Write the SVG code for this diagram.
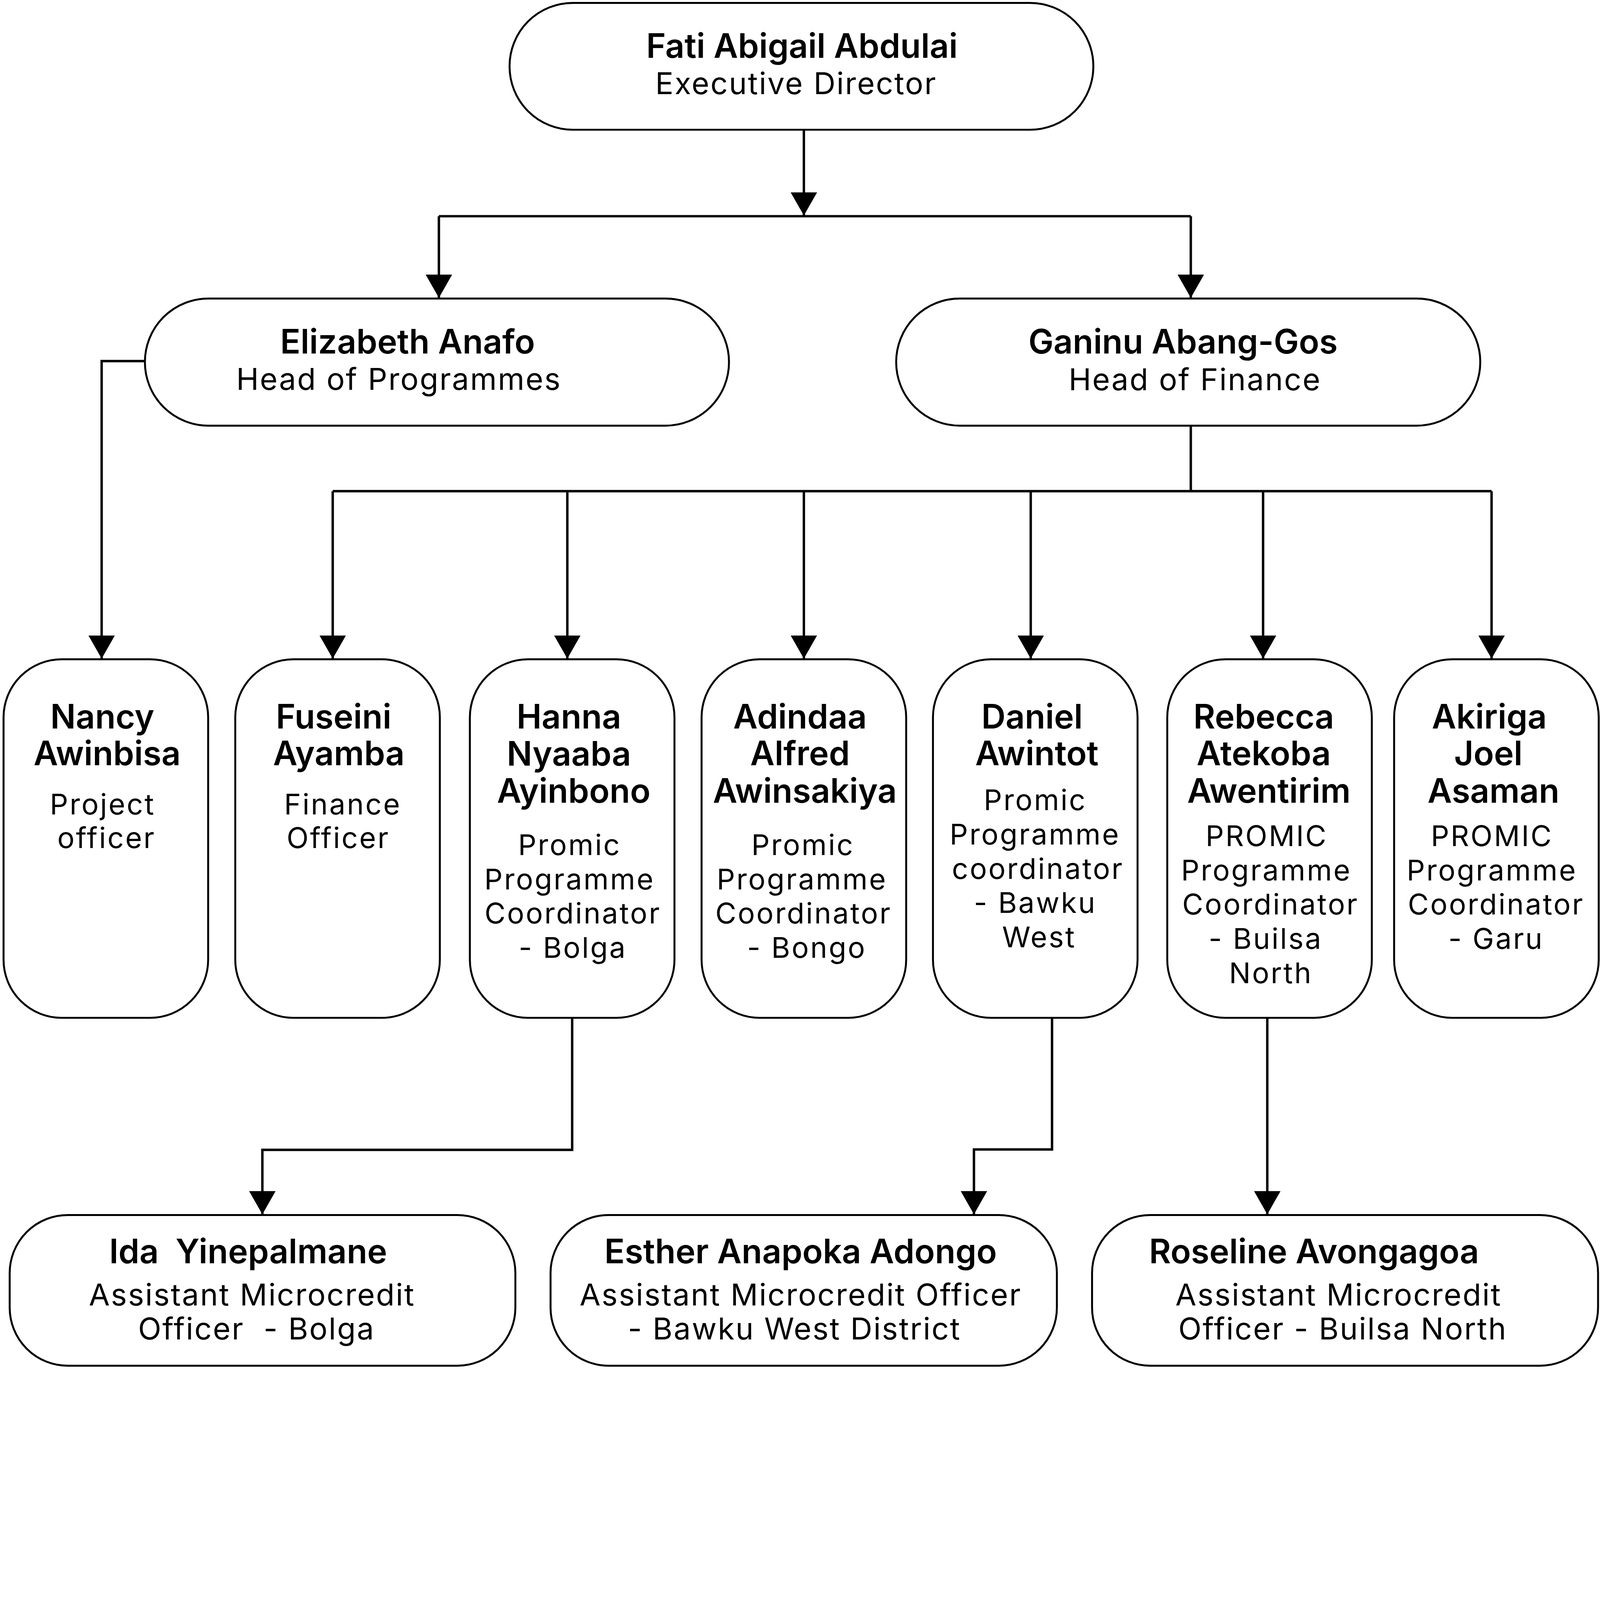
<svg xmlns="http://www.w3.org/2000/svg" width="4958" height="4239" viewBox="0 0 4958 4239" preserveAspectRatio="xMinYMin meet" style="max-width:100vw;max-height:100vh">
<defs>
<style>
.box{fill:#fff;stroke:#000;stroke-width:6}
.con{fill:none;stroke:#000;stroke-width:7.5}
text{font-family:Inter,"Liberation Sans",Arial,sans-serif;fill:#000;text-anchor:middle}
.nb{font-size:104px;font-weight:600}
.rt{font-size:94px;letter-spacing:3.5px}
.rs{font-size:89px;letter-spacing:4.5px}
</style>
<marker id="ah" viewBox="0 0 72 82" refX="72" refY="41" markerWidth="72" markerHeight="82" markerUnits="userSpaceOnUse" orient="auto">
<path d="M0,0 L72,41 L0,82 Z" fill="#000"/>
</marker>
</defs>
<rect width="4958" height="4239" fill="#fff"/>
<g id="connectors">
<path class="con" d="M2491,402 V668" marker-end="url(#ah)"/>
<path class="con" d="M1360,670 H3690"/>
<path class="con" d="M1360,670 V923" marker-end="url(#ah)"/>
<path class="con" d="M3690,670 V923" marker-end="url(#ah)"/>
<path class="con" d="M449,1119 H315 V2041" marker-end="url(#ah)"/>
<path class="con" d="M3690,1319 V1522"/>
<path class="con" d="M1031,1522 H4622"/>
<path class="con" d="M1031,1522 V2041" marker-end="url(#ah)"/>
<path class="con" d="M1758,1522 V2041" marker-end="url(#ah)"/>
<path class="con" d="M2491,1522 V2041" marker-end="url(#ah)"/>
<path class="con" d="M3194,1522 V2041" marker-end="url(#ah)"/>
<path class="con" d="M3914,1522 V2041" marker-end="url(#ah)"/>
<path class="con" d="M4622,1522 V2041" marker-end="url(#ah)"/>
<path class="con" d="M1773,3154 V3563 H813 V3763" marker-end="url(#ah)"/>
<path class="con" d="M3260,3154 V3562 H3018 V3763" marker-end="url(#ah)"/>
<path class="con" d="M3927,3154 V3763" marker-end="url(#ah)"/>
</g>
<g id="fati">
<rect class="box" x="1579" y="9" width="1809" height="393" rx="196"/>
<text class="nb" x="2485" y="179">Fati Abigail Abdulai</text>
<text class="rt" x="2467" y="292">Executive Director</text>
</g>
<g id="elizabeth">
<rect class="box" x="449" y="925" width="1810" height="394" rx="197"/>
<text class="nb" x="1263" y="1096">Elizabeth Anafo</text>
<text class="rt" x="1236" y="1208">Head of Programmes</text>
</g>
<g id="ganinu">
<rect class="box" x="2777" y="925" width="1810" height="394" rx="197"/>
<text class="nb" x="3666" y="1096">Ganinu Abang-Gos</text>
<text class="rt" x="3703" y="1209">Head of Finance</text>
</g>
<g id="nancy">
<rect class="box" x="11" y="2043" width="634" height="1111" rx="180"/>
<text class="nb" x="317" y="2257">Nancy</text>
<text class="nb" x="332" y="2371">Awinbisa</text>
<text class="rs" x="318" y="2524">Project</text>
<text class="rs" x="330" y="2628">officer</text>
</g>
<g id="fuseini">
<rect class="box" x="729" y="2043" width="634" height="1111" rx="180"/>
<text class="nb" x="1034" y="2257">Fuseini</text>
<text class="nb" x="1050" y="2371">Ayamba</text>
<text class="rs" x="1062" y="2524">Finance</text>
<text class="rs" x="1048" y="2628">Officer</text>
</g>
<g id="hanna">
<rect class="box" x="1456" y="2043" width="634" height="1111" rx="180"/>
<text class="nb" x="1763" y="2257">Hanna</text>
<text class="nb" x="1763" y="2372">Nyaaba</text>
<text class="nb" x="1778" y="2488">Ayinbono</text>
<text class="rs" x="1765" y="2650">Promic</text>
<text class="rs" x="1765" y="2756">Programme</text>
<text class="rs" x="1775" y="2862">Coordinator</text>
<text class="rs" x="1775" y="2968">- Bolga</text>
</g>
<g id="adindaa">
<rect class="box" x="2174" y="2043" width="634" height="1111" rx="180"/>
<text class="nb" x="2479" y="2257">Adindaa</text>
<text class="nb" x="2479" y="2371">Alfred</text>
<text class="nb" x="2494" y="2487">Awinsakiya</text>
<text class="rs" x="2488" y="2650">Promic</text>
<text class="rs" x="2485" y="2756">Programme</text>
<text class="rs" x="2490" y="2862">Coordinator</text>
<text class="rs" x="2500" y="2968">- Bongo</text>
</g>
<g id="daniel">
<rect class="box" x="2891" y="2043" width="634" height="1111" rx="180"/>
<text class="nb" x="3198" y="2257">Daniel</text>
<text class="nb" x="3213" y="2371">Awintot</text>
<text class="rs" x="3208" y="2511">Promic</text>
<text class="rs" x="3207" y="2617">Programme</text>
<text class="rs" x="3216" y="2724">coordinator</text>
<text class="rs" x="3208" y="2829">- Bawku</text>
<text class="rs" x="3220" y="2935">West</text>
</g>
<g id="rebecca">
<rect class="box" x="3617" y="2043" width="634" height="1111" rx="180"/>
<text class="nb" x="3916" y="2257">Rebecca</text>
<text class="nb" x="3916" y="2371">Atekoba</text>
<text class="nb" x="3932" y="2487">Awentirim</text>
<text class="rs" x="3925" y="2622">PROMIC</text>
<text class="rs" x="3924" y="2728">Programme</text>
<text class="rs" x="3937" y="2834">Coordinator</text>
<text class="rs" x="3922" y="2940">- Builsa</text>
<text class="rs" x="3938" y="3047">North</text>
</g>
<g id="akiriga">
<rect class="box" x="4320" y="2043" width="634" height="1111" rx="180"/>
<text class="nb" x="4615" y="2257">Akiriga</text>
<text class="nb" x="4612" y="2371">Joel</text>
<text class="nb" x="4628" y="2487">Asaman</text>
<text class="rs" x="4623" y="2622">PROMIC</text>
<text class="rs" x="4623" y="2728">Programme</text>
<text class="rs" x="4636" y="2834">Coordinator</text>
<text class="rs" x="4636" y="2940">- Garu</text>
</g>
<g id="ida">
<rect class="box" x="30" y="3765" width="1567" height="467" rx="180"/>
<text class="nb" x="769" y="3915">Ida&#160; Yinepalmane</text>
<text class="rt" x="781" y="4045">Assistant Microcredit</text>
<text class="rt" x="795" y="4151">Officer&#160; - Bolga</text>
</g>
<g id="esther">
<rect class="box" x="1706" y="3765" width="1569" height="467" rx="180"/>
<text class="nb" x="2481" y="3914">Esther Anapoka Adongo</text>
<text class="rt" x="2481" y="4045">Assistant Microcredit Officer</text>
<text class="rt" x="2462" y="4151">- Bawku West District</text>
</g>
<g id="roseline">
<rect class="box" x="3384" y="3765" width="1568" height="467" rx="180"/>
<text class="nb" x="4072" y="3914">Roseline Avongagoa</text>
<text class="rt" x="4148" y="4045">Assistant Microcredit</text>
<text class="rt" x="4161" y="4151">Officer - Builsa North</text>
</g>
</svg>
